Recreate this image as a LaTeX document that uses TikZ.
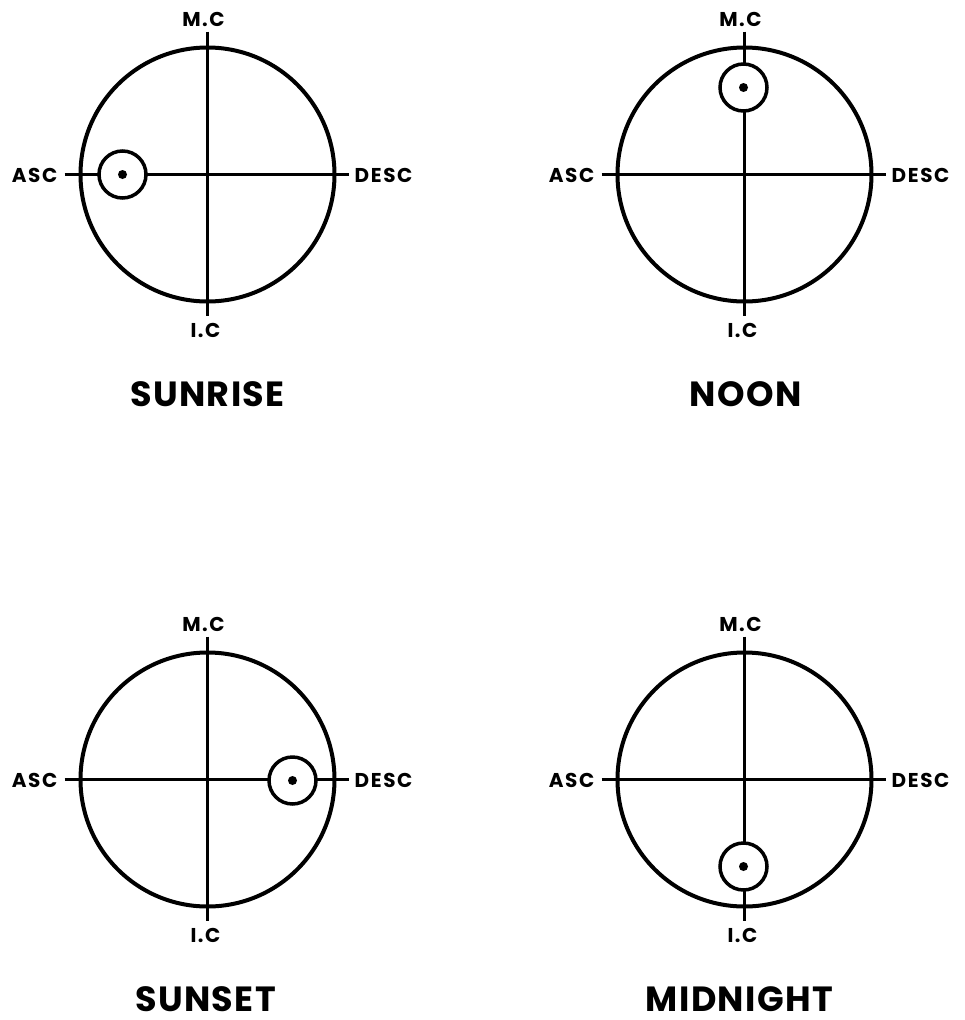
\documentclass[tikz,border=0pt]{standalone}
\usepackage{fontspec}
\setmainfont{Poppins}
\newfontfamily\pointfont{Poppins}[LetterSpace=8]
\newfontfamily\titlefont{Poppins}[LetterSpace=4]
\tikzset{
  ring/.style={line width=4pt},
  axis/.style={line width=3pt},
  sunbody/.style={circle, draw, fill=white, line width=3.5pt, minimum size=47pt, inner sep=0pt},
  pointlabel/.style={font=\fontsize{20}{20}\pointfont\bfseries, inner sep=0pt},
  titlelabel/.style={font=\fontsize{35}{35}\titlefont\bfseries, inner sep=0pt}
}
\newcommand\astropanel[7]{%
  % #1 name, #2 cx, #3 cy, #4 sun dx, #5 sun dy, #6 title, #7 title dx
  \coordinate (#1-c) at (#2,#3);
  \draw[ring] (#1-c) circle (127);
  \coordinate (#1-n) at ($(#1-c)+(0,-143)$);
  \coordinate (#1-s) at ($(#1-c)+(0,141)$);
  \coordinate (#1-w) at ($(#1-c)+(-143,0)$);
  \coordinate (#1-e) at ($(#1-c)+(141,0)$);
  \draw[axis] (#1-n) -- (#1-s);
  \draw[axis] (#1-w) -- (#1-e);
  \node[pointlabel] (#1-mc) at ($(#1-c)+(-4,-155)$) {M.C};
  \node[pointlabel] (#1-ic) at ($(#1-c)+(-2,156)$) {I.C};
  \node[pointlabel, anchor=east] (#1-asc) at ($(#1-c)+(-150,1)$) {ASC};
  \node[pointlabel, anchor=west] (#1-desc) at ($(#1-c)+(147,1)$) {DESC};
  \node[sunbody] (#1-sun) at ($(#1-c)+(#4,#5)$) {};
  \fill (#1-sun.center) circle (4.5);
  \node[titlelabel] (#1-title) at ($(#1-c)+(#7,220)$) {#6};
}
\usetikzlibrary{calc}
\begin{document}
\begin{tikzpicture}[x=1pt,y=-1pt]
\useasboundingbox (0,0) rectangle (965,1020);
\fill[white] (0,0) rectangle (965,1020);
\astropanel{sr}{207.5}{174.5}{-85}{0}{SUNRISE}{0}
\astropanel{no}{744.5}{174.5}{-1}{-87}{NOON}{1}
\astropanel{ss}{207.5}{779.5}{85}{1}{SUNSET}{-2}
\astropanel{mn}{744.5}{779.5}{-1}{87}{MIDNIGHT}{-5}
\end{tikzpicture}
\end{document}
